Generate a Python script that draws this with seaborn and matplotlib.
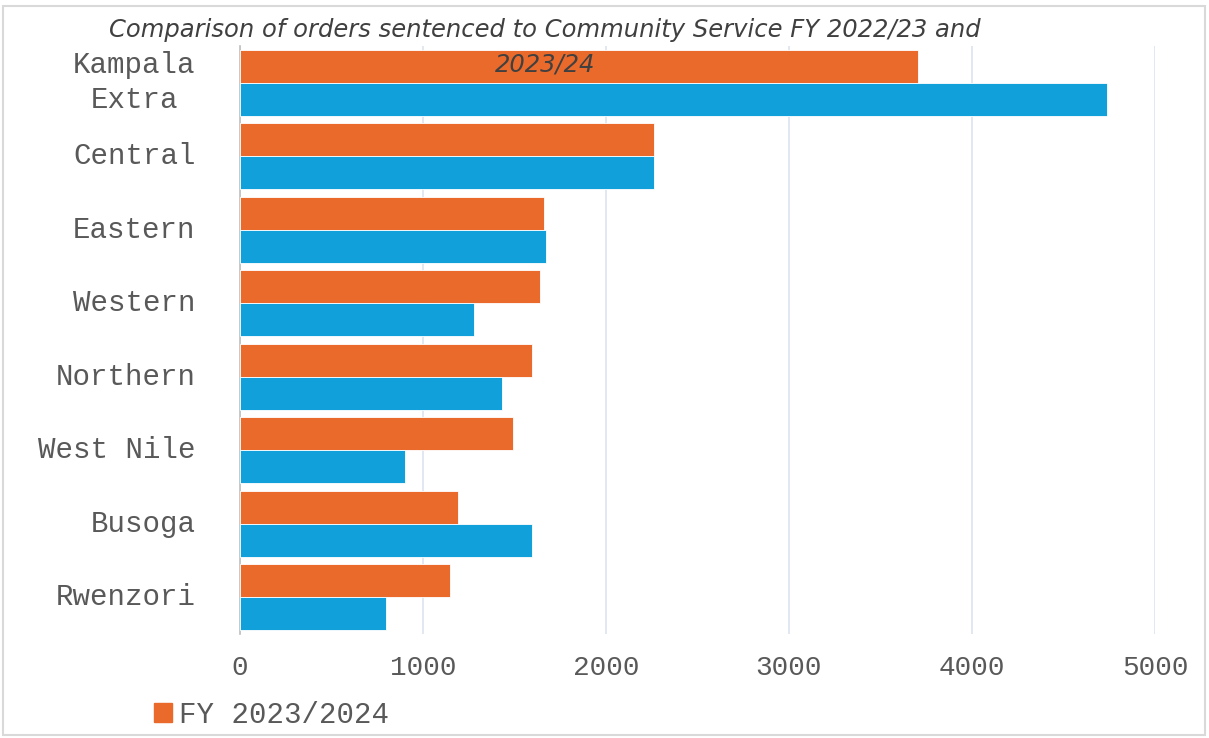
import matplotlib
matplotlib.use("Agg")
import matplotlib.pyplot as plt
from matplotlib.patches import Patch, Rectangle
from matplotlib import font_manager
import seaborn as sns
import pandas as pd

regions = ["Kampala\nExtra", "Central", "Eastern", "Western", "Northern",
           "West Nile", "Busoga", "Rwenzori"]
fy_2023_24 = [3705, 2262, 1660, 1642, 1598, 1490, 1192, 1145]
fy_2022_23 = [4738, 2262, 1670, 1280, 1432, 903, 1598, 800]
series_names = ["FY 2023/2024", "FY 2022/2023"]
x_ticks = [0, 1000, 2000, 3000, 4000, 5000]
title_line1 = "Comparison of orders sentenced to Community Service FY 2022/23 and"
title_line2 = "2023/24"

orange = "#EA6A2B"
blue = "#11A0DA"

df = pd.DataFrame({
    "Region": regions * 2,
    "Orders": fy_2023_24 + fy_2022_23,
    "FY": [series_names[0]] * len(regions) + [series_names[1]] * len(regions),
})

sns.set_style("white")
names = {f.name for f in font_manager.fontManager.ttflist}
mono = "Liberation Mono" if "Liberation Mono" in names else "DejaVu Sans Mono"
title_family = "DejaVu Sans"

fig = plt.figure(figsize=(12.09, 7.38), dpi=100)
ax = fig.add_axes([240 / 1209, 1 - 634 / 738, (1155 - 240) / 1209, (634 - 46) / 738])

sns.barplot(data=df, x="Orders", y="Region", hue="FY", orient="h",
            palette=[orange, blue], hue_order=series_names, order=regions,
            width=0.9, saturation=1, legend=False, ax=ax,
            edgecolor="white", linewidth=0.6, zorder=3)

ax.set_xlim(0, 5000)
ax.set_ylim(len(regions) - 0.5, -0.5)
ax.set_xticks(x_ticks)
ax.set_xticklabels([str(t) for t in x_ticks])
ax.set_xlabel("")
ax.set_ylabel("")
ax.grid(axis="x", color="#DCE4F0", linewidth=1.2, zorder=0)
ax.grid(axis="y", visible=False)
for s in ["top", "right", "bottom"]:
    ax.spines[s].set_visible(False)
ax.spines["left"].set_color("#BFBFBF")
ax.spines["left"].set_linewidth(1.2)
ax.tick_params(axis="both", length=0)
ax.tick_params(axis="y", pad=32)
ax.tick_params(axis="x", pad=15)
for lab in ax.get_yticklabels():
    lab.set_fontfamily(mono)
    lab.set_fontsize(21)
    lab.set_color("#595959")
    lab.set_multialignment("center")
    lab.set_linespacing(1.3)
    lab.set_verticalalignment("center")
for lab in ax.get_xticklabels():
    lab.set_fontfamily(mono)
    lab.set_fontsize(20)
    lab.set_color("#595959")

fig.text(545 / 1209, 1 - 30 / 738, title_line1, ha="center", va="center",
         fontsize=17.5, style="italic", family=title_family, color="#404040",
         zorder=10)
fig.text(545 / 1209, 1 - 65 / 738, title_line2, ha="center", va="center",
         fontsize=17.5, style="italic", family=title_family, color="#404040",
         zorder=10)

fig.legend(handles=[Patch(facecolor=orange, edgecolor=orange)],
           labels=[series_names[0]], loc="center left",
           bbox_to_anchor=(154 / 1209, 1 - 715 / 738), frameon=False,
           handlelength=0.6, handleheight=0.6, handletextpad=0.25,
           borderaxespad=0, borderpad=0,
           prop={"family": mono, "size": 21}, labelcolor="#595959")

fig.patches.append(Rectangle((3 / 1209, 3 / 738), 1202 / 1209, 729 / 738,
                             transform=fig.transFigure, fill=False,
                             edgecolor="#D9D9D9", linewidth=1.5))

fig.savefig("out.png", dpi=100)
